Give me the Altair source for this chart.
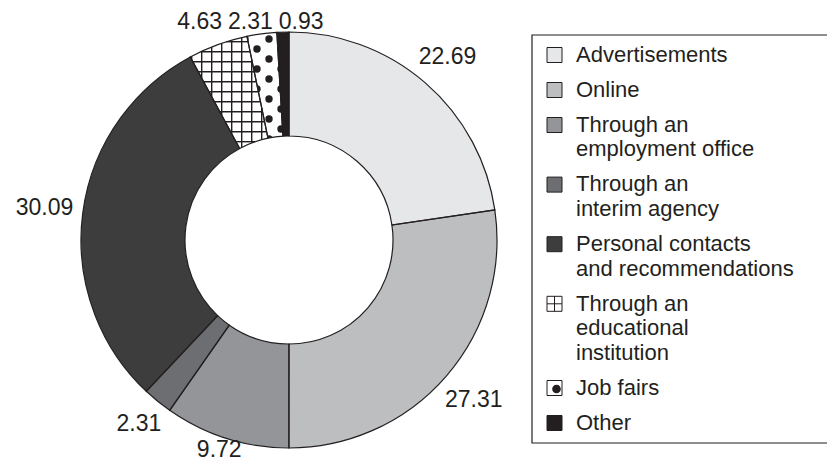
import math
import altair as alt
import pandas as pd

# ---------------- data ----------------
categories = [
    "Advertisements",
    "Online",
    "Through an employment office",
    "Through an interim agency",
    "Personal contacts and recommendations",
    "Through an educational institution",
    "Job fairs",
    "Other",
]
values = [22.69, 27.31, 9.72, 2.31, 30.09, 4.63, 2.31, 0.93]
value_labels = ["22.69", "27.31", "9.72", "2.31", "30.09", "4.63", "2.31", "0.93"]
legend_lines = [
    ["Advertisements"],
    ["Online"],
    ["Through an", "employment office"],
    ["Through an", "interim agency"],
    ["Personal contacts", "and recommendations"],
    ["Through an", "educational", "institution"],
    ["Job fairs"],
    ["Other"],
]
fills = ["#e6e7e8", "#bcbec0", "#939598", "#6d6e71", "#3d3d3e", "#ffffff", "#ffffff", "#231f20"]
patterns = [None, None, None, None, None, "grid", "dots", None]

# ---------------- layout / style ----------------
W, H = 819, 454
CX, CY = 281.0, 232.0
R_OUT, R_IN = 208.0, 104.0
FONT = "Liberation Sans"
FS = 23
LEG_FS = 22
INK = "#231f20"
TAU = 2 * math.pi
TOTAL = sum(values)

LEG_BOX = (524, 27, 820, 435)
LEG_SYM_X = 546.5
LEG_TEXT_X = 568
LEG_Y0 = 47
LINE_H = 24.6
ENTRY_STEP = 35
SYM = 15

xs = alt.Scale(domain=[0, W], range=[0, W], nice=False, zero=False)
ys = alt.Scale(domain=[0, H], range=[0, H], nice=False, zero=False)
ts = alt.Scale(domain=[0, TOTAL], range=[0, TAU])
cs = alt.Scale(domain=categories, range=fills)

# ---------------- slices ----------------
rows, cum = [], 0.0
for c, v, p in zip(categories, values, patterns):
    rows.append(dict(cat=c, t0=cum, t1=cum + v, mid=cum + v / 2, pat=p or ""))
    cum += v
slices = pd.DataFrame(rows)
dots_slice = slices[slices.pat == "dots"]
other_slices = slices[slices.pat != "dots"]


def ang(v):
    return v / TOTAL * TAU


def inside(dx, dy, a0, a1, margin=0.0):
    r = math.hypot(dx, dy)
    if r < R_IN + margin or r > R_OUT - margin:
        return False
    t = math.atan2(dx, -dy) % TAU
    m = margin / r if r > 0 else 0
    return a0 + m <= t <= a1 - m


# grid hatch (educational institution)
gi = patterns.index("grid")
a0, a1 = ang(slices.t0[gi]), ang(slices.t1[gi])
GRID, GX0, GY0 = 10.0, -87.3, -188.3
samples = [i * 0.25 - R_OUT for i in range(int(2 * R_OUT / 0.25) + 1)]
segs = []
for k in range(-25, 26):
    c = GX0 + k * GRID
    ins = [s for s in samples if inside(c, s, a0, a1)]
    if ins:
        segs.append(dict(x=CX + c, y=CY + min(ins), x2=CX + c, y2=CY + max(ins)))
    c = GY0 + k * GRID
    ins = [s for s in samples if inside(s, c, a0, a1)]
    if ins:
        segs.append(dict(x=CX + min(ins), y=CY + c, x2=CX + max(ins), y2=CY + c))
grid_df = pd.DataFrame(segs)

# dot pattern (job fairs): lattice, clipped by the neighbouring fills and masks
di = patterns.index("dots")
b0, b1 = ang(slices.t0[di]), ang(slices.t1[di])
DX0, DY0 = -32.0, -191.0
dots = []
for j in range(-30, 30):
    for i in range(-20, 20):
        dx = DX0 + 24 * i + 12 * (j % 2)
        dy = DY0 + 10 * j
        if inside(dx, dy, b0, b1, margin=-4.5):
            dots.append(dict(x=CX + dx, y=CY + dy))
dots_df = pd.DataFrame(dots)

# ---------------- value labels ----------------
def text_w(s):
    return sum(0.278 * FS if ch == "." else 0.556 * FS for ch in s)


HH = 0.37 * FS
GAP = 9
labs = []
for lab, m in zip(value_labels, slices.mid):
    th = ang(m)
    s, c = math.sin(th), math.cos(th)
    w = text_w(lab)
    r = R_OUT + GAP + abs(s) * w / 2 + abs(c) * HH
    labs.append(dict(text=lab, x=CX + r * s, y=CY - r * c, w=w))
for _ in range(80):
    for i in range(len(labs)):
        for j in range(i + 1, len(labs)):
            p, q = labs[i], labs[j]
            if abs(p["y"] - q["y"]) < 2 * HH:
                need = (p["w"] + q["w"]) / 2 + 6 - abs(p["x"] - q["x"])
                if need > 0:
                    sgn = 1 if q["x"] >= p["x"] else -1
                    p["x"] -= sgn * need / 2
                    q["x"] += sgn * need / 2
for p in labs:
    p["y"] = min(max(p["y"], 0.63 * FS), H - 0.53 * FS)
labels_df = pd.DataFrame(labs)

# ---------------- legend ----------------
sym_rows, txt_rows = [], []
y = LEG_Y0
for cat, lines in zip(categories, legend_lines):
    sym_rows.append(dict(cat=cat, x=LEG_SYM_X, y=y))
    txt_rows.append(dict(text="\n".join(lines), x=LEG_TEXT_X, y=y - 0.46 * LEG_FS))
    y += (len(lines) - 1) * LINE_H + ENTRY_STEP
sym_df = pd.DataFrame(sym_rows)
txt_df = pd.DataFrame(txt_rows)
gs = sym_rows[gi]
cross_df = pd.DataFrame([
    dict(x=gs["x"], x2=gs["x"], y=gs["y"] - SYM / 2, y2=gs["y"] + SYM / 2),
    dict(x=gs["x"] - SYM / 2, x2=gs["x"] + SYM / 2, y=gs["y"], y2=gs["y"]),
])
ds = sym_rows[di]
legdot_df = pd.DataFrame([dict(x=ds["x"] + 2, y=ds["y"] + 1)])
one = pd.DataFrame([dict(a=1)])

# ---------------- chart ----------------
X = lambda f: alt.X(f, scale=xs, axis=None)
Y = lambda f: alt.Y(f, scale=ys, axis=None)


def slice_layer(df):
    return alt.Chart(df).mark_arc(radius=R_OUT, radius2=R_IN, strokeWidth=0).encode(
        theta=alt.Theta("t0:Q", scale=ts),
        theta2="t1:Q",
        color=alt.Color("cat:N", scale=cs, legend=None),
        x=alt.value(CX),
        y=alt.value(CY),
    )


dots_fill = slice_layer(dots_slice)
dotl = alt.Chart(dots_df).mark_circle(size=55, color=INK, opacity=1).encode(
    x=X("x:Q"), y=Y("y:Q")
)
other_fill = slice_layer(other_slices)
ring_mask = alt.Chart(one).mark_arc(radius=R_OUT + 14, radius2=R_OUT, color="white", opacity=1).encode(
    theta=alt.value(0), theta2=alt.value(TAU), x=alt.value(CX), y=alt.value(CY)
)
hole_mask = alt.Chart(one).mark_arc(radius=R_IN, radius2=0, color="white", opacity=1).encode(
    theta=alt.value(0), theta2=alt.value(TAU), x=alt.value(CX), y=alt.value(CY)
)
grid = alt.Chart(grid_df).mark_rule(color=INK, strokeWidth=1.4).encode(
    x=X("x:Q"), y=Y("y:Q"), x2="x2:Q", y2="y2:Q"
)
outline = alt.Chart(slices).mark_arc(
    radius=R_OUT, radius2=R_IN, fillOpacity=0, stroke=INK, strokeWidth=1.2
).encode(
    theta=alt.Theta("t0:Q", scale=ts),
    theta2="t1:Q",
    x=alt.value(CX),
    y=alt.value(CY),
)
labels = alt.Chart(labels_df).mark_text(
    font=FONT, fontSize=FS, color=INK, align="center", baseline="middle"
).encode(x=X("x:Q"), y=Y("y:Q"), text="text:N")

box = alt.Chart(one).mark_rect(fillOpacity=0, stroke=INK, strokeWidth=1.2).encode(
    x=alt.value(LEG_BOX[0]), x2=alt.value(LEG_BOX[2]),
    y=alt.value(LEG_BOX[1]), y2=alt.value(LEG_BOX[3]),
)
syms = alt.Chart(sym_df).mark_square(size=SYM * SYM, opacity=1, stroke=INK, strokeWidth=1).encode(
    x=X("x:Q"), y=Y("y:Q"), color=alt.Color("cat:N", scale=cs, legend=None)
)
cross = alt.Chart(cross_df).mark_rule(color=INK, strokeWidth=1).encode(
    x=X("x:Q"), y=Y("y:Q"), x2="x2:Q", y2="y2:Q"
)
legdot = alt.Chart(legdot_df).mark_circle(size=75, color=INK, opacity=1).encode(
    x=X("x:Q"), y=Y("y:Q")
)
legtxt = alt.Chart(txt_df).mark_text(
    font=FONT, fontSize=LEG_FS, color=INK, align="left", baseline="top",
    lineBreak="\n", lineHeight=LINE_H
).encode(x=X("x:Q"), y=Y("y:Q"), text="text:N")

chart = alt.layer(
    dots_fill, dotl, other_fill, ring_mask, hole_mask, grid, outline, labels,
    box, syms, cross, legdot, legtxt
).properties(
    width=W, height=H, padding=0, autosize=alt.AutoSizeParams(type="none")
).configure_view(stroke=None)

chart.save("out.html", embed_options={"renderer": "svg", "actions": False})
